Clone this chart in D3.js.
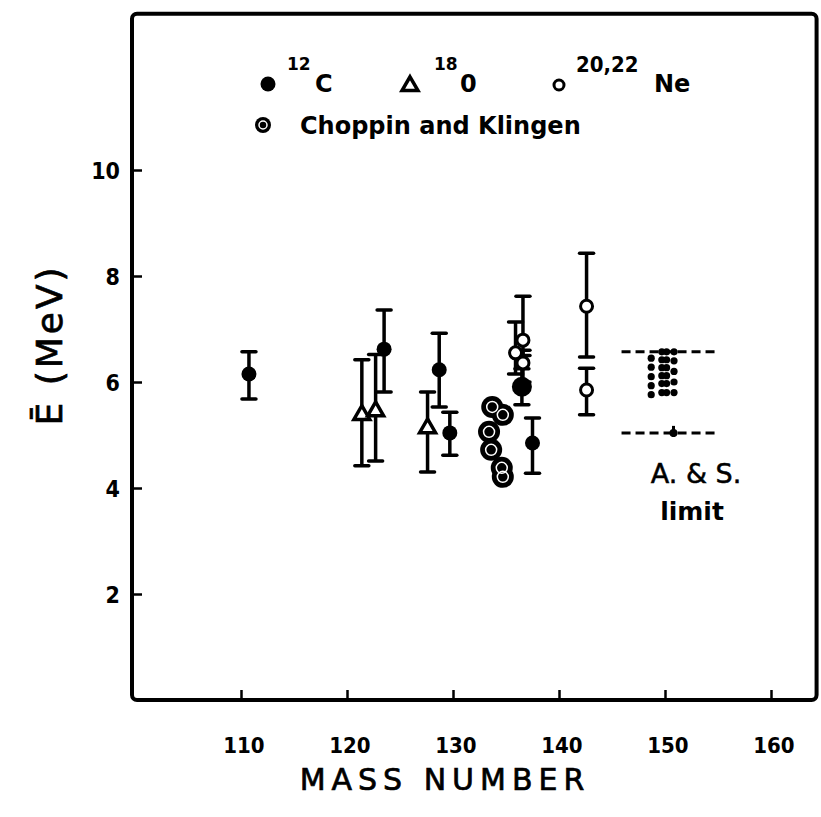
<!DOCTYPE html>
<html>
<head>
<meta charset="utf-8">
<script src="https://cdn.jsdelivr.net/npm/d3@7"></script>
<style>
  body { margin: 0; background: #fff; }
  text { font-family: "DejaVu Sans", sans-serif; fill: #000; }
</style>
</head>
<body>
<div id="chart"></div>
<script>
// values
let xTicks = [110, 120, 130, 140, 150, 160];
let yTicks = [2, 4, 6, 8, 10];

let carbonMass = [110.75, 123.5, 128.7, 129.7, 136.5, 137.5];
let carbonE    = [6.15, 6.62, 6.23, 5.04, 5.91, 4.85];
let carbonLo   = [5.68, 5.81, 5.53, 4.62, 5.57, 4.28];
let carbonHi   = [6.57, 7.36, 6.92, 5.43, 6.25, 5.32];
let carbonBig  = [false, false, false, false, true, false];

let oxygenMass = [121.4, 122.7, 127.6];
let oxygenE    = [5.38, 5.45, 5.13];
let oxygenLo   = [4.42, 4.51, 4.30];
let oxygenHi   = [6.42, 6.52, 5.81];

let neonMass = [135.9, 136.6, 136.6, 142.6, 142.6];
let neonE    = [6.55, 6.79, 6.36, 7.43, 5.85];
let neonLo   = [6.15, 6.5, 6.0, 6.47, 5.38];
let neonHi   = [7.13, 7.62, 6.6, 8.43, 6.26];

let choppinMass = [133.7, 134.7, 133.4, 133.6, 134.6, 134.7];
let choppinE    = [5.53, 5.38, 5.06, 4.72, 4.38, 4.21];

let asLimitE = [6.57, 5.04];
let asLimitMass = [145.9, 154.7];
let asDotMass = [148.7, 149.7, 150.15, 150.85];
let asDotE = [
    [6.45, 6.28, 6.1, 5.93, 5.76],
    [6.57, 6.42, 6.27, 6.12, 5.97, 5.8],
    [6.57, 6.42, 6.27, 6.12, 5.97, 5.8],
    [6.57, 6.4, 6.2, 6.0, 5.8]
];
let asMarkMass = 150.8;

let width = 821, height = 817;

let svg = d3.select("#chart")
    .append("svg")
    .attr("width", width)
    .attr("height", height);

let x = d3.scaleLinear().domain([110, 160]).range([241, 771]);
let y = d3.scaleLinear().domain([0, 13]).range([700, 11]);

// frame
svg.append("rect")
    .attr("x", x(100) - 3)
    .attr("y", y(12.95))
    .attr("width", x(164.3) - x(100) + 3)
    .attr("height", y(0) - y(12.95))
    .attr("rx", 5)
    .attr("fill", "none")
    .attr("stroke", "#000")
    .attr("stroke-width", 4);

// axes (ticks pointing inward, labels drawn separately)
let xAxis = d3.axisTop(x).tickValues(xTicks).tickSize(9).tickFormat("");
let yAxis = d3.axisRight(y).tickValues(yTicks).tickSize(9).tickFormat("");

svg.append("g")
    .attr("transform", "translate(0," + (y(0) - 1) + ")")
    .call(xAxis)
    .call(g => g.select(".domain").remove())
    .selectAll("line").attr("stroke-width", 2.5);

svg.append("g")
    .attr("transform", "translate(" + (x(100) - 2) + ",0)")
    .call(yAxis)
    .call(g => g.select(".domain").remove())
    .selectAll("line").attr("stroke-width", 2.5);

svg.selectAll(".xlab")
    .data(xTicks)
    .enter()
    .append("text")
    .attr("class", "xlab")
    .attr("x", d => x(d) + 3)
    .attr("y", 753)
    .attr("text-anchor", "middle")
    .style("font-family", "'DejaVu Sans Condensed', 'DejaVu Sans'")
    .style("font-weight", "bold")
    .style("font-size", "22px")
    .text(d => d);

svg.selectAll(".ylab")
    .data(yTicks)
    .enter()
    .append("text")
    .attr("class", "ylab")
    .attr("x", 120)
    .attr("y", d => y(d) + 9)
    .attr("text-anchor", "end")
    .style("font-family", "'DejaVu Sans Condensed', 'DejaVu Sans'")
    .style("font-weight", "bold")
    .style("font-size", "23px")
    .text(d => d);

svg.append("text")
    .attr("x", 445)
    .attr("y", 790)
    .attr("text-anchor", "middle")
    .style("font-size", "30px")
    .style("letter-spacing", "6px")
    .style("stroke", "#000")
    .style("stroke-width", "0.7px")
    .text("MASS  NUMBER");

svg.append("text")
    .attr("transform", "translate(62,345) rotate(-90)")
    .attr("text-anchor", "middle")
    .style("font-size", "36px")
    .style("letter-spacing", "3px")
    .style("stroke", "#000")
    .style("stroke-width", "0.7px")
    .text("Ē (MeV)");

// error bars
function errorBars(mass, lo, hi) {
    let g = svg.append("g").attr("stroke", "#000");
    let idx = d3.range(mass.length);
    g.selectAll(".bar").data(idx).enter().append("line")
        .attr("x1", i => x(mass[i])).attr("x2", i => x(mass[i]))
        .attr("y1", i => y(lo[i])).attr("y2", i => y(hi[i]))
        .attr("stroke-width", 3.5);
    g.selectAll(".capLo").data(idx).enter().append("line")
        .attr("x1", i => x(mass[i]) - 7).attr("x2", i => x(mass[i]) + 7)
        .attr("y1", i => y(lo[i])).attr("y2", i => y(lo[i]))
        .attr("stroke-width", 3.5).attr("stroke-linecap", "round");
    g.selectAll(".capHi").data(idx).enter().append("line")
        .attr("x1", i => x(mass[i]) - 7).attr("x2", i => x(mass[i]) + 7)
        .attr("y1", i => y(hi[i])).attr("y2", i => y(hi[i]))
        .attr("stroke-width", 3.5).attr("stroke-linecap", "round");
}

errorBars(carbonMass, carbonLo, carbonHi);
errorBars(oxygenMass, oxygenLo, oxygenHi);
errorBars(neonMass, neonLo, neonHi);

// Choppin and Klingen
svg.selectAll(".choppin")
    .data(d3.range(choppinMass.length))
    .enter()
    .append("circle")
    .attr("cx", i => x(choppinMass[i]))
    .attr("cy", i => y(choppinE[i]))
    .attr("r", 11)
    .attr("fill", "#000");
svg.selectAll(".choppinIn")
    .data(d3.range(choppinMass.length))
    .enter()
    .append("circle")
    .attr("cx", i => x(choppinMass[i]))
    .attr("cy", i => y(choppinE[i]))
    .attr("r", 5.5)
    .attr("fill", "none")
    .attr("stroke", "#fff")
    .attr("stroke-width", 1.5);

// 12C
svg.selectAll(".carbon")
    .data(d3.range(carbonMass.length))
    .enter()
    .append("circle")
    .attr("cx", i => x(carbonMass[i]))
    .attr("cy", i => y(carbonE[i]))
    .attr("r", i => carbonBig[i] ? 10 : 7.5)
    .attr("fill", "#000");

// 18O
let tri = d3.symbol().type(d3.symbolTriangle).size(110);
svg.selectAll(".oxygen")
    .data(d3.range(oxygenMass.length))
    .enter()
    .append("path")
    .attr("d", tri)
    .attr("transform", i => "translate(" + x(oxygenMass[i]) + "," + y(oxygenE[i]) + ")")
    .attr("fill", "#fff")
    .attr("stroke", "#000")
    .attr("stroke-width", 3.5);

// 20,22Ne
svg.selectAll(".neon")
    .data(d3.range(neonMass.length))
    .enter()
    .append("circle")
    .attr("cx", i => x(neonMass[i]))
    .attr("cy", i => y(neonE[i]))
    .attr("r", 6)
    .attr("fill", "#fff")
    .attr("stroke", "#000")
    .attr("stroke-width", 3);

// A. & S. limit
svg.selectAll(".aslim")
    .data(asLimitE)
    .enter()
    .append("line")
    .attr("x1", x(asLimitMass[0]))
    .attr("x2", x(asLimitMass[1]))
    .attr("y1", d => y(d))
    .attr("y2", d => y(d))
    .attr("stroke", "#000")
    .attr("stroke-width", 3)
    .attr("stroke-dasharray", "9,5");

let dots = [];
asDotMass.forEach((m, c) => asDotE[c].forEach(e => dots.push({m: m, e: e})));
svg.selectAll(".asdot")
    .data(dots)
    .enter()
    .append("circle")
    .attr("cx", d => x(d.m))
    .attr("cy", d => y(d.e))
    .attr("r", 3.6)
    .attr("fill", "#000");

svg.append("circle")
    .attr("cx", x(asMarkMass))
    .attr("cy", y(asLimitE[1]))
    .attr("r", 4)
    .attr("fill", "#000");
svg.append("line")
    .attr("x1", x(asMarkMass)).attr("x2", x(asMarkMass))
    .attr("y1", y(asLimitE[1]) - 7).attr("y2", y(asLimitE[1]) + 4)
    .attr("stroke", "#000").attr("stroke-width", 3);

svg.append("text")
    .attr("x", 696).attr("y", 483)
    .attr("text-anchor", "middle")
    .style("font-size", "27px")
    .style("stroke", "#000")
    .style("stroke-width", "0.5px")
    .text("A. & S.");
svg.append("text")
    .attr("x", 692).attr("y", 520)
    .attr("text-anchor", "middle")
    .style("font-size", "25px")
    .style("font-weight", "bold")
    .text("limit");

// legend
let legend = svg.append("g");
legend.append("circle").attr("cx", 268).attr("cy", 84).attr("r", 7.5).attr("fill", "#000");
legend.append("text").attr("x", 287).attr("y", 70)
    .style("font-size", "17px").style("font-weight", "bold").text("12");
legend.append("text").attr("x", 315).attr("y", 92)
    .style("font-size", "24px").style("font-weight", "bold").text("C");

legend.append("path").attr("d", tri)
    .attr("transform", "translate(410,86)")
    .attr("fill", "#fff").attr("stroke", "#000").attr("stroke-width", 3.5);
legend.append("text").attr("x", 434).attr("y", 70)
    .style("font-size", "17px").style("font-weight", "bold").text("18");
legend.append("text").attr("x", 460).attr("y", 92)
    .style("font-size", "24px").style("font-weight", "bold").text("0");

legend.append("circle").attr("cx", 559).attr("cy", 85).attr("r", 5)
    .attr("fill", "#fff").attr("stroke", "#000").attr("stroke-width", 3);
legend.append("text").attr("x", 576).attr("y", 72)
    .style("font-family", "'DejaVu Sans Condensed', 'DejaVu Sans'")
    .style("font-size", "22px").style("font-weight", "bold").text("20,22");
legend.append("text").attr("x", 654).attr("y", 92)
    .style("font-size", "24px").style("font-weight", "bold").text("Ne");

legend.append("circle").attr("cx", 263).attr("cy", 125).attr("r", 8).attr("fill", "#000");
legend.append("circle").attr("cx", 263).attr("cy", 125).attr("r", 4)
    .attr("fill", "none").attr("stroke", "#fff").attr("stroke-width", 1.5);
legend.append("text").attr("x", 300).attr("y", 134)
    .style("font-size", "24px").style("font-weight", "bold")
    .text("Choppin and Klingen");
</script>
</body>
</html>
